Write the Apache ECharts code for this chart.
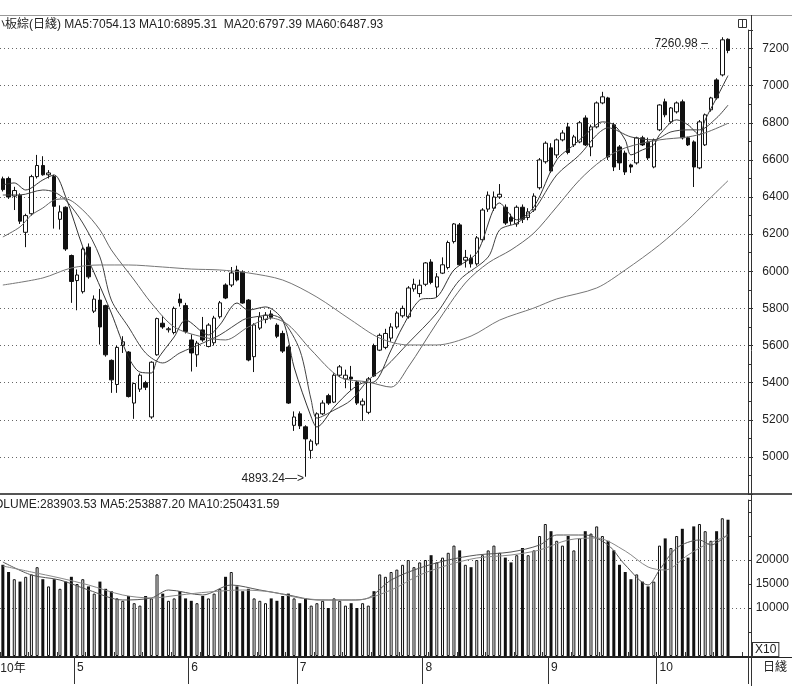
<!DOCTYPE html>
<html>
<head>
<meta charset="utf-8">
<script src="https://cdn.jsdelivr.net/npm/echarts@6/dist/echarts.min.js"></script>
<style>
html, body { margin: 0; padding: 0; background: #fff; }
#chart { width: 792px; height: 686px; }
</style>
</head>
<body>
<div id="chart"></div>
<script>
// 中小板綜 日線, 2010/04 - 2010/10
const monthNames = ['4', '5', '6', '7', '8', '9', '10']
const monthDays = [13, 20, 19, 22, 22, 19, 13]

const opens  = [6498,6500,6405,6410,6210,6310,6510,6570,6520,6510,6280,6345,6085,5950,5890,6130,5785,5845,5815,5520,
                5390,5600,5565,5290,5365,5400,5215,5550,5720,5685,5670,5850,5815,5630,5550,5684,5595,5615,5755,5926,
                5926,6007,5996,5845,5540,5694,5740,5770,5710,5665,5592,5170,5232,5162,5035,5070,5232,5330,5295,5440,
                5420,5430,5404,5280,5240,5600,5575,5590,5640,5700,5760,5755,5905,5880,5930,6050,5915,5990,6020,6160,
                6250,6060,6070,6040,6170,6335,6340,6400,6345,6290,6255,6345,6290,6330,6450,6590,6665,6627,6708,6778,
                6681,6697,6826,6670,6778,6907,6934,6789,6670,6637,6573,6584,6719,6697,6562,6762,6913,6805,6859,6913,
                6719,6697,6557,6681,6870,7031,7058,7250]
const highs  = [6510,6510,6455,6420,6310,6520,6627,6620,6545,6520,6355,6350,6090,6010,6130,6150,5870,5905,5820,5525,
                5600,5650,5570,5400,5450,5410,5515,5750,5760,5700,5810,5880,5830,5660,5625,5754,5720,5760,5840,5935,
                6023,6030,6005,5850,5720,5780,5780,5790,5720,5680,5600,5245,5245,5170,5095,5240,5305,5340,5450,5495,
                5470,5490,5410,5315,5430,5610,5665,5690,5720,5785,5815,5920,5960,5955,6050,6065,5990,6075,6165,6260,
                6260,6115,6090,6190,6340,6430,6430,6470,6360,6310,6355,6360,6340,6420,6610,6700,6690,6715,6760,6800,
                6735,6810,6840,6790,6915,6967,6940,6800,6680,6650,6580,6725,6730,6720,6715,6900,6930,6885,6915,6925,
                6725,6705,6815,6850,6940,7040,7260.98,7255]
const lows   = [6430,6390,6330,6255,6130,6300,6500,6515,6500,6230,6225,6110,5830,5790,5880,5960,5775,5605,5540,5345,
                5345,5560,5320,5205,5350,5360,5205,5545,5690,5670,5660,5810,5665,5460,5485,5620,5590,5600,5745,5850,
                5915,5945,5825,5515,5457,5684,5720,5740,5640,5560,5285,5140,5150,4893.24,4990,5060,5225,5280,5290,5430,
                5370,5360,5280,5194,5230,5430,5570,5580,5620,5690,5750,5745,5890,5860,5920,5930,5860,5985,6010,6150,
                6030,6020,6020,6030,6160,6320,6325,6390,6250,6250,6240,6260,6275,6320,6440,6580,6530,6610,6700,6630,
                6670,6690,6675,6620,6770,6900,6600,6540,6546,6519,6530,6575,6675,6600,6555,6755,6830,6795,6850,6710,
                6675,6454,6550,6675,6860,6925,7050,7175]
const closes = [6440,6400,6435,6270,6300,6510,6570,6520,6530,6350,6320,6120,5945,5980,6120,5970,5850,5700,5550,5415,
                5590,5620,5325,5395,5440,5375,5510,5745,5700,5690,5800,5830,5675,5560,5613,5630,5710,5748,5830,5856,
                5991,5953,5829,5522,5711,5754,5764,5752,5650,5570,5290,5215,5167,5097,5085,5232,5290,5290,5440,5485,
                5440,5420,5290,5300,5420,5436,5655,5665,5700,5775,5800,5910,5930,5925,6045,5940,5970,6035,6155,6255,
                6035,6075,6040,6180,6330,6410,6400,6415,6260,6270,6345,6280,6320,6405,6600,6690,6540,6708,6745,6640,
                6724,6800,6681,6778,6907,6940,6616,6562,6584,6535,6562,6719,6681,6611,6708,6896,6843,6880,6907,6719,
                6681,6562,6805,6843,6934,6934,7247,7190]

// volume, axis units (x10)
const volumes = [19000,17500,16000,15500,16500,17000,18500,16000,14500,16000,14000,15500,16500,
                 15000,16000,14500,13000,15500,14000,13500,12000,11500,12500,11000,10500,12500,12000,17000,13000,11500,12000,13500,12000,
                 11500,11000,12500,12000,13000,14000,16500,17500,14500,13500,14000,12000,11500,11000,12000,11500,12500,13000,12000,
                 11000,12000,10500,11000,11500,10000,12000,11500,10500,11000,10000,11000,10500,13500,17000,16500,17500,18000,19000,20000,18500,19500,
                 20000,21000,19500,20500,21500,23000,22000,19000,18500,20000,21000,22000,23000,21500,20500,19500,21000,22500,21000,22000,25000,27500,
                 26000,24000,23000,25000,22000,24500,26000,25500,27000,25000,24000,22000,19000,17500,16000,17000,15500,14500,15500,
                 23000,24500,22500,25000,26500,20500,27000,27500,26000,24000,26000,28700,28390]

// moving averages: [day index, value]
const ma5 = [[0,6465],[2,6476],[4,6438],[7,6492],[9,6519],[11,6401],[14,6131],[16,5991],[19,5775],[22,5538],[24,5457],
  [26,5452],[27,5522],[30,5646],[32,5737],[36,5657],[38,5711],[41,5829],[43,5791],[46,5808],[49,5737],[51,5484],[54,5215],
  [55,5161],[58,5268],[61,5360],[63,5398],[65,5403],[68,5576],[70,5700],[73,5845],[76,5861],[79,6007],[83,6099],[87,6368],
  [90,6277],[93,6347],[97,6600],[100,6681],[102,6735],[105,6805],[107,6789],[109,6708],[110,6627],[112,6654],[114,6681],
  [115,6735],[118,6816],[120,6789],[122,6735],[123,6816],[125,6934],[127,7054.13]]
const ma10 = [[0,6411],[3,6411],[7,6438],[9,6427],[11,6384],[14,6260],[17,6077],[19,5845],[22,5700],[25,5560],[28,5506],
  [31,5560],[35,5613],[38,5657],[42,5737],[43,5748],[47,5764],[49,5737],[52,5576],[54,5306],[55,5209],[58,5252],[61,5306],
  [64,5414],[67,5484],[71,5613],[76,5775],[80,5953],[85,6077],[87,6223],[90,6260],[93,6330],[97,6519],[101,6627],[104,6735],
  [106,6773],[110,6724],[114,6708],[117,6751],[120,6762],[122,6762],[125,6826],[127,6895.31]]
const ma20 = [[0,6185],[3,6239],[5,6303],[7,6341],[9,6384],[11,6390],[14,6330],[17,6223],[19,6115],[23,5953],[26,5829],
  [30,5700],[35,5646],[39,5630],[43,5700],[47,5748],[50,5711],[54,5576],[59,5430],[64,5403],[68,5376],[71,5484],[76,5721],
  [81,5937],[85,6045],[89,6115],[93,6206],[97,6347],[101,6492],[105,6600],[109,6665],[115,6708],[120,6724],[123,6746],[127,6797.39]]
const ma60 = [[0,5926],[7,5964],[12,6018],[17,6034],[22,6034],[28,6023],[33,6012],[38,6007],[43,5991],[49,5953],[55,5861],
  [61,5737],[66,5640],[71,5603],[76,5603],[82,5651],[87,5737],[93,5802],[97,5851],[104,5910],[109,6007],[115,6142],
  [120,6277],[123,6368],[127,6487.93]]
const vma5 = [[0,19583],[5,16875],[10,15833],[15,13750],[21,11667],[26,12083],[29,13750],[35,12708],[40,14792],[45,13750],
  [50,12708],[55,11667],[61,11667],[64,12083],[68,15833],[73,18333],[78,20000],[83,21042],[89,21667],[94,23125],[97,25208],
  [102,25208],[106,23125],[109,18958],[113,14792],[115,17917],[118,22500],[122,24167],[124,23125],[127,25389]]
const vma10 = [[0,18750],[5,17500],[10,16250],[15,14792],[21,12708],[26,12083],[31,12708],[36,13333],[42,13750],[47,13333],
  [52,12083],[57,11667],[62,11667],[68,13750],[73,16875],[78,18958],[83,20417],[89,21042],[94,22083],[99,24167],[104,24583],
  [109,21875],[113,18542],[116,17917],[120,21042],[123,23125],[127,25043]]

const days = []
monthNames.forEach((m, i) => {
  for (let d = 1; d <= monthDays[i]; d++) days.push(m + '/' + d)
})
for (let i = 1; i <= 3; i++) days.push('+' + i)

const kdata = opens.map((o, i) => [o, closes[i], lows[i], highs[i]])
const isUp = i => closes[i] >= opens[i]
const voldata = volumes.map((v, i) => ({
  value: v,
  itemStyle: isUp(i) ? {color: '#fff', borderColor: '#111', borderWidth: 1} : {color: '#111'}
}))

const FONT = '"Liberation Sans", Arial, "Noto Sans CJK TC", sans-serif'
const isMonthStart = (idx, name) => /\/1$/.test(name) && idx > 0

const maLine = (name, data, color, xi, yi) => ({
  name, type: 'line', data, xAxisIndex: xi, yAxisIndex: yi,
  smooth: 0.3, symbol: 'none', silent: true,
  lineStyle: {width: 1, color}
})

const chart = echarts.init(document.getElementById('chart'))
chart.setOption({
  animation: false,
  backgroundColor: '#fff',
  grid: [
    {left: -2, right: 41, top: 30, height: 464},
    {left: -2, right: 41, top: 500, height: 156}
  ],
  xAxis: [
    {type: 'category', gridIndex: 0, data: days, boundaryGap: true,
      axisLine: {show: false}, axisTick: {show: false}, axisLabel: {show: false}, splitLine: {show: false}},
    {type: 'category', gridIndex: 1, data: days, boundaryGap: true,
      axisLine: {show: true, lineStyle: {color: '#222', width: 1}},
      axisTick: {show: true, interval: isMonthStart, length: 28, lineStyle: {color: '#333'}},
      axisLabel: {interval: isMonthStart, formatter: v => v.split('/')[0], align: 'left', margin: 6,
        color: '#222', fontSize: 12, fontFamily: FONT},
      splitLine: {show: false}},
    {type: 'category', gridIndex: 1, data: days, boundaryGap: true, position: 'bottom',
      axisLine: {show: false},
      axisTick: {show: true, inside: true, interval: 4, length: 4, lineStyle: {color: '#333'}},
      axisLabel: {show: false}}
  ],
  yAxis: [
    {type: 'value', gridIndex: 0, position: 'right', min: 4800, max: 7300, interval: 200,
      axisLine: {show: true, lineStyle: {color: '#333'}},
      axisTick: {show: true, length: 5, lineStyle: {color: '#333'}},
      minorTick: {show: true, splitNumber: 2, length: 3, lineStyle: {color: '#333'}},
      axisLabel: {showMinLabel: false, showMaxLabel: false, margin: 41, align: 'right',
        color: '#222', fontSize: 12, fontFamily: FONT, formatter: v => String(v)},
      splitLine: {show: true, showMinLine: false, showMaxLine: false,
        lineStyle: {color: '#666', type: [1, 3], width: 1}}},
    {type: 'value', gridIndex: 1, position: 'right', min: 0, max: 32500, interval: 5000,
      axisLine: {show: true, lineStyle: {color: '#333'}},
      axisTick: {show: true, length: 4, lineStyle: {color: '#333'}},
      axisLabel: {margin: 41, align: 'right', color: '#222', fontSize: 12, fontFamily: FONT,
        formatter: v => (v >= 10000 && v <= 20000) ? String(v) : ''},
      splitLine: {show: true, lineStyle: {type: [1, 3], width: 1,
        color: ['rgba(0,0,0,0)', 'rgba(0,0,0,0)', '#666', 'rgba(0,0,0,0)', '#666', 'rgba(0,0,0,0)', 'rgba(0,0,0,0)', 'rgba(0,0,0,0)']}}}
  ],
  series: [
    {
      name: 'K', type: 'candlestick', data: kdata, xAxisIndex: 0, yAxisIndex: 0,
      barWidth: 4,
      itemStyle: {color: '#fff', color0: '#111', borderColor: '#111', borderColor0: '#111', borderWidth: 1},
      markPoint: {
        symbol: 'circle', symbolSize: 1,
        itemStyle: {color: 'rgba(0,0,0,0)'},
        label: {color: '#222', fontSize: 12, fontFamily: FONT},
        data: [
          {type: 'max', valueDim: 'highest',
            label: {position: 'left', distance: 14, offset: [0, 6], formatter: p => p.value.toFixed(2) + ' ‒'}},
          {type: 'min', valueDim: 'lowest',
            label: {position: 'left', distance: 1, offset: [0, 2], formatter: p => p.value.toFixed(2) + '—>'}}
        ]
      }
    },
    maLine('MA5', ma5, '#333', 0, 0),
    maLine('MA10', ma10, '#444', 0, 0),
    maLine('MA20', ma20, '#666', 0, 0),
    maLine('MA60', ma60, '#777', 0, 0),
    {name: 'VOLUME', type: 'bar', data: voldata, xAxisIndex: 1, yAxisIndex: 1, barWidth: 3},
    maLine('VMA5', vma5, '#555', 1, 1),
    maLine('VMA10', vma10, '#888', 1, 1)
  ],
  graphic: [
    {type: 'line', shape: {x1: 0, y1: 15.5, x2: 792, y2: 15.5}, style: {stroke: '#999', lineWidth: 1}},
    {type: 'line', shape: {x1: 0, y1: 494, x2: 792, y2: 494}, style: {stroke: '#555', lineWidth: 2}},
    {type: 'line', shape: {x1: 0, y1: 657.5, x2: 792, y2: 657.5}, style: {stroke: '#222', lineWidth: 1}},
    {type: 'line', shape: {x1: 751.5, y1: 15, x2: 751.5, y2: 686}, style: {stroke: '#333', lineWidth: 1}},
    {type: 'rect', shape: {x: 738.5, y: 19.5, width: 8, height: 8}, style: {fill: '#fff', stroke: '#333', lineWidth: 1}},
    {type: 'line', shape: {x1: 742.5, y1: 19.5, x2: 742.5, y2: 27.5}, style: {stroke: '#333', lineWidth: 1}},
    {type: 'text', x: -19, y: 19, style: {text: '中小板綜(日綫) MA5:7054.13 MA10:6895.31  MA20:6797.39 MA60:6487.93',
      fill: '#222', font: '12px ' + FONT}},
    {type: 'text', x: -14, y: 499, style: {text: 'VOLUME:283903.53 MA5:253887.20 MA10:250431.59',
      fill: '#222', font: '12px ' + FONT}},
    {type: 'text', x: -13, y: 663, style: {text: '2010年', fill: '#222', font: '12px ' + FONT}},
    {type: 'text', x: 763, y: 662, style: {text: '日綫', fill: '#222', font: '12px ' + FONT}},
    {type: 'text', x: 753, y: 643, style: {text: 'X10', fill: '#222', font: '12px ' + FONT,
      borderColor: '#333', borderWidth: 1, padding: [1, 2, 0, 2], backgroundColor: '#fff'}}
  ]
})
</script>
</body>
</html>
